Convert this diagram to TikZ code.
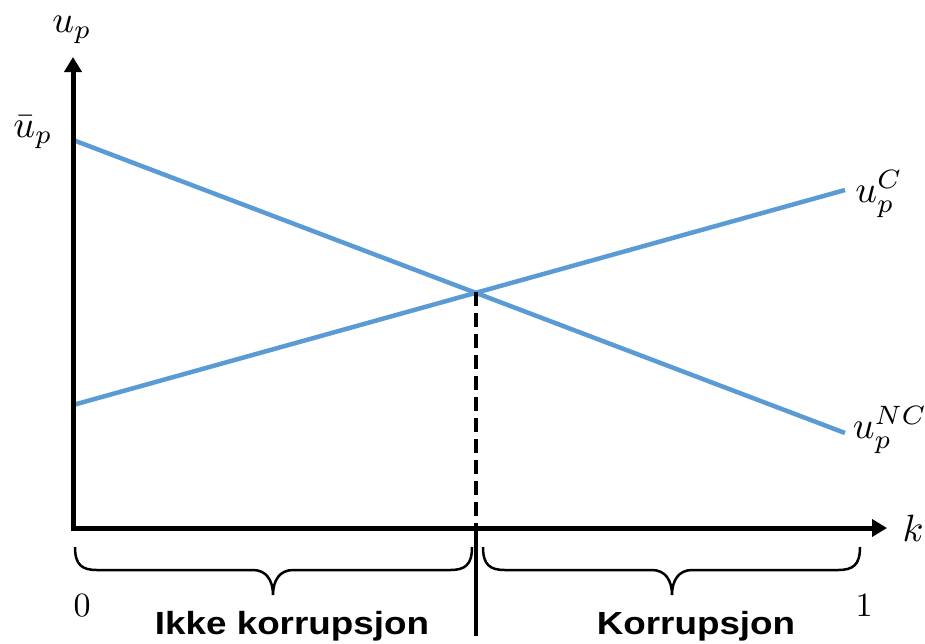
\documentclass[tikz,border=0pt]{standalone}
\usepackage{fontspec}
\newfontfamily\labfont{Liberation Sans}
\usetikzlibrary{arrows.meta}
\definecolor{lineblue}{RGB}{91,155,213}
\tikzset{
  axis/.style={line width=5pt, -{Triangle[length=15pt,width=17pt]}},
  curve/.style={line width=4.5pt, lineblue},
  bracepath/.style={line width=2.5pt},
  mlabel/.style={inner sep=0pt, scale=3.8},
  nlabel/.style={inner sep=0pt, scale=3.4},
  region/.style={font=\labfont\bfseries\fontsize{32}{38}\selectfont, inner sep=0pt, xscale=1.15}
}
\begin{document}
\begin{tikzpicture}[x=1pt,y=-1pt]
\useasboundingbox (0,0) rectangle (925,643);
\coordinate (O) at (73,528);
\coordinate (ytop) at (73,57);
\coordinate (xend) at (887,528);
\coordinate (A1) at (73,140);
\coordinate (A2) at (845,433);
\coordinate (B1) at (73,405);
\coordinate (B2) at (845,190);
\coordinate (X) at (476,292);
\coordinate (Xb) at (476,528);
\coordinate (Xbot) at (476,636);
% curves
\draw[curve] (A1) -- (A2);
\draw[curve] (B1) -- (B2);
% dashed and solid split
\draw[line width=4pt, dash pattern=on 14pt off 7pt] (X) -- (Xb);
\draw[line width=4pt] (Xb) -- (Xbot);
% axes
\draw[axis] ([yshift=2.5pt]O) -- (ytop);
\draw[axis] ([xshift=-2.5pt]O) -- (xend);
% braces
\draw[bracepath] (75,547) .. controls (75,565) and (82,570) .. (97,570) -- (253,570)
  .. controls (266,570) and (273,580) .. (273,595)
  .. controls (273,580) and (280,570) .. (293,570) -- (450,570)
  .. controls (465,570) and (472,565) .. (472,547);
\draw[bracepath] (483,547) .. controls (483,565) and (490,570) .. (505,570) -- (652,570)
  .. controls (665,570) and (672,580) .. (672,595)
  .. controls (672,580) and (679,570) .. (692,570) -- (838,570)
  .. controls (853,570) and (860,565) .. (860,547);
% labels
\node[mlabel] (up) at (72,30) {$u_p$};
\node[mlabel] (ubar) at (33,132) {$\bar u_p$};
\node[mlabel] (uC) at (879,194) {$u_p^C$};
\node[mlabel] (uNC) at (890,430) {$u_p^{NC}$};
\node[mlabel] (k) at (913,528) {$k$};
\node[nlabel] (zero) at (82,606) {$0$};
\node[nlabel] (one) at (864,606) {$1$};
\node[region] (ikke) at (292,626) {Ikke korrupsjon};
\node[region] (korr) at (696,626) {Korrupsjon};
\end{tikzpicture}
\end{document}
